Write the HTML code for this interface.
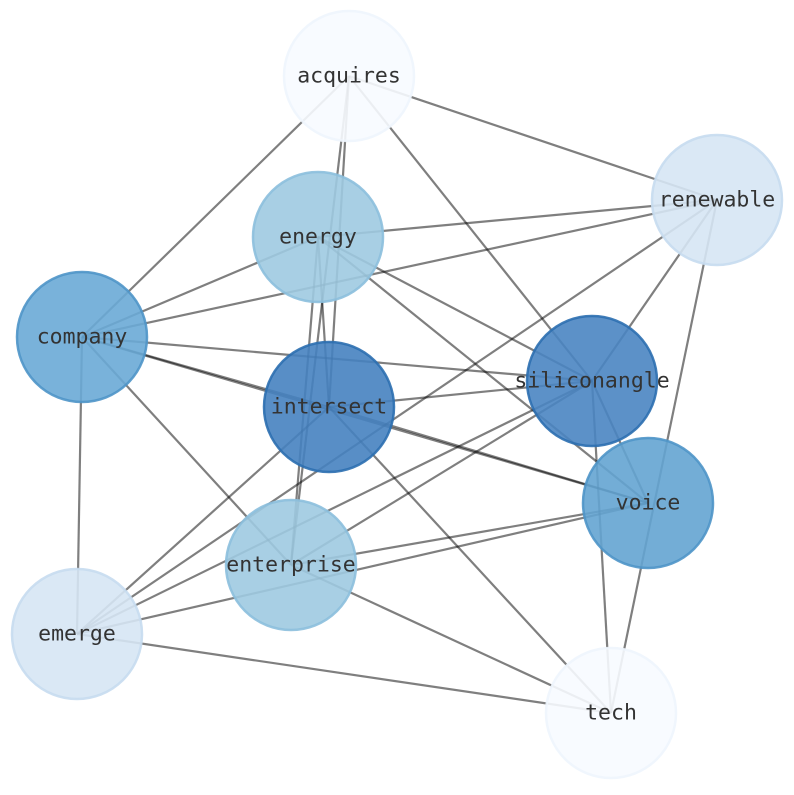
<!DOCTYPE html>
<html><head><meta charset="utf-8"><style>html,body{margin:0;padding:0;background:#fff}</style></head>
<body>
<svg width="794" height="790" viewBox="0 0 794 790" xmlns="http://www.w3.org/2000/svg">
<g stroke="#000" stroke-opacity="0.5" stroke-width="2.2">
<line x1="349" y1="76" x2="717" y2="200"/>
<line x1="349" y1="76" x2="82" y2="337"/>
<line x1="349" y1="76" x2="592" y2="381"/>
<line x1="349" y1="76" x2="329" y2="407"/>
<line x1="349" y1="76" x2="291" y2="565"/>
<line x1="717" y1="200" x2="318" y2="237"/>
<line x1="717" y1="200" x2="82" y2="337"/>
<line x1="717" y1="200" x2="77" y2="634"/>
<line x1="717" y1="200" x2="592" y2="381"/>
<line x1="717" y1="200" x2="611" y2="713"/>
<line x1="318" y1="237" x2="82" y2="337"/>
<line x1="318" y1="237" x2="592" y2="381"/>
<line x1="318" y1="237" x2="648" y2="503"/>
<line x1="318" y1="237" x2="329" y2="407"/>
<line x1="318" y1="237" x2="291" y2="565"/>
<line x1="82" y1="337" x2="329" y2="407"/>
<line x1="82" y1="337" x2="592" y2="381"/>
<line x1="82" y1="337" x2="648" y2="503"/>
<line x1="82" y1="337" x2="291" y2="565"/>
<line x1="82" y1="337" x2="77" y2="634"/>
<line x1="329" y1="407" x2="592" y2="381"/>
<line x1="329" y1="407" x2="648" y2="503"/>
<line x1="329" y1="407" x2="77" y2="634"/>
<line x1="329" y1="407" x2="611" y2="713"/>
<line x1="592" y1="381" x2="291" y2="565"/>
<line x1="592" y1="381" x2="77" y2="634"/>
<line x1="592" y1="381" x2="648" y2="503"/>
<line x1="592" y1="381" x2="611" y2="713"/>
<line x1="648" y1="503" x2="291" y2="565"/>
<line x1="648" y1="503" x2="77" y2="634"/>
<line x1="291" y1="565" x2="611" y2="713"/>
<line x1="77" y1="634" x2="611" y2="713"/>
</g>
<g stroke-width="2.5" fill-opacity="0.9" stroke-opacity="0.9">
<circle cx="349" cy="76" r="65" fill="#f7fbff" stroke="#eef5fd"/>
<circle cx="717" cy="200" r="65" fill="#d6e6f4" stroke="#c6dbef"/>
<circle cx="318" cy="237" r="65" fill="#9ecae1" stroke="#8cbfdd"/>
<circle cx="82" cy="337" r="65" fill="#6aaad6" stroke="#4f95c8"/>
<circle cx="329" cy="407" r="65" fill="#4682c0" stroke="#2c6fb0"/>
<circle cx="592" cy="381" r="65" fill="#4a85c2" stroke="#2c6fb0"/>
<circle cx="648" cy="503" r="65" fill="#64a4d2" stroke="#4f95c8"/>
<circle cx="291" cy="565" r="65" fill="#9ecae1" stroke="#8cbfdd"/>
<circle cx="77" cy="634" r="65" fill="#d6e6f4" stroke="#c6dbef"/>
<circle cx="611" cy="713" r="65" fill="#f7fbff" stroke="#eef5fd"/>
</g>
<g font-family="'DejaVu Sans Mono','Liberation Mono',monospace" font-size="21.5" fill="#333" text-anchor="middle" dominant-baseline="central">
<text x="349" y="76">acquires</text>
<text x="717" y="200">renewable</text>
<text x="318" y="237">energy</text>
<text x="82" y="337">company</text>
<text x="329" y="407">intersect</text>
<text x="592" y="381">siliconangle</text>
<text x="648" y="503">voice</text>
<text x="291" y="565">enterprise</text>
<text x="77" y="634">emerge</text>
<text x="611" y="713">tech</text>
</g>
</svg>
</body></html>
